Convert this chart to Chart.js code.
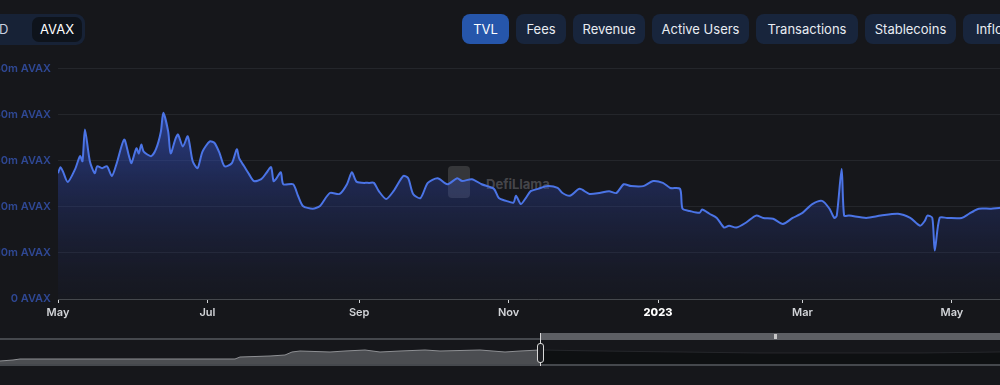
<!DOCTYPE html>
<html>
<head>
<meta charset="utf-8">
<script src="https://cdn.jsdelivr.net/npm/chart.js@4/dist/chart.umd.min.js"></script>
<style>
  body { margin: 0; width: 1000px; height: 385px; overflow: hidden; background: #16171b; font-family: Inter, "Noto Sans", sans-serif; position: relative; }
  .grp { position: absolute; left: -30px; top: 14px; width: 115px; height: 31px; background: #172236; border-radius: 9px; }
  .grp span { position: absolute; top: 0; line-height: 31px; font-size: 13px; color: #c9d1e0; }
  .grp .on { left: 62px; top: 3px; width: 50px; height: 25px; line-height: 25px; text-align: center; background: #0e131b; border-radius: 7px; color: #ffffff; }
  .btn { position: absolute; top: 14px; height: 30px; line-height: 30px; border-radius: 8px; background: #18253c; color: #e8ecf2; font-size: 13px; text-align: center; }
  .btn.on { background: #2656ab; color: #ffffff; }
  #wrap { position: absolute; left: -40px; top: 55px; width: 1061px; height: 266px; }
  #mark { position: absolute; left: 448px; top: 166px; }
  #mark .logo { position: absolute; left: 0; top: 0; width: 22px; height: 32px; background: rgba(150,150,150,0.25); border-radius: 4px; }
  #mark .txt { position: absolute; left: 38px; top: 10px; font-size: 13px; font-weight: 700; color: rgba(190,190,195,0.3); white-space: nowrap; }
  .bline { position: absolute; height: 2px; background: #45484d; }
  #brushWrap { position: absolute; left: 0; top: 340px; width: 1000px; height: 24px; }
  .handle { position: absolute; left: 537px; top: 343px; width: 5px; height: 18px; border: 1px solid #d8d8d8; border-radius: 3px; background: #1d1e22; }
</style>
</head>
<body>
<div class="grp"><span style="left:11px">USD</span><span class="on">AVAX</span></div>
<div class="btn on" style="left:462px;width:47px">TVL</div>
<div class="btn" style="left:516px;width:50px">Fees</div>
<div class="btn" style="left:573px;width:72px">Revenue</div>
<div class="btn" style="left:652px;width:97px">Active Users</div>
<div class="btn" style="left:756px;width:102px">Transactions</div>
<div class="btn" style="left:865px;width:91px">Stablecoins</div>
<div class="btn" style="left:963px;width:70px">Inflows</div>

<div id="mark"><div class="logo"></div><div class="txt">DefiLlama</div></div>
<div id="wrap"><canvas id="tvl"></canvas></div>

<div class="bline" style="left:0;top:338px;width:540px"></div>
<div style="position:absolute;left:540px;top:333px;width:460px;height:7px;background:#5d5f64"></div>
<div style="position:absolute;left:774px;top:334px;width:3px;height:5px;background:#c8c8c8"></div>
<div class="bline" style="left:0;top:364px;width:1000px"></div>
<div id="brushWrap"><canvas id="brush"></canvas></div>
<div style="position:absolute;left:540px;top:333px;width:1px;height:33px;background:#d8d8d8"></div>
<div class="handle"></div>

<script>
// days since 2022-05-01, TVL in millions of AVAX
const days = [0, 1, 2, 4, 7, 9, 10, 11, 13, 15, 16, 18, 20, 22, 24, 27, 29, 30, 32, 33, 34, 35, 38, 40, 42, 43, 45, 46, 48, 49,
  51, 53, 55, 57, 59, 62, 64, 66, 68, 71, 73, 74, 76, 78, 80, 83, 85, 87, 88, 89, 91, 92, 96, 98, 100, 104, 107, 111, 115, 118,
  120, 122, 127, 129, 131, 134, 137, 141, 143, 145, 148, 151, 155, 159, 163, 165, 169, 173, 178, 180, 183, 186, 187, 189, 191, 193, 196, 200,
  204, 206, 209, 213, 217, 221, 225, 228, 231, 234, 239, 243, 247, 250, 254, 255, 258, 262, 263, 266, 269, 272, 274, 277, 281, 285,
  288, 292, 296, 300, 304, 308, 312, 315, 317, 318, 320, 321, 323, 330, 336, 343, 348, 352, 354, 355, 357, 358, 360, 363, 369, 372,
  374, 376, 381, 385, 390];
const tvl = [27.3, 28.6, 27.7, 25.4, 28.2, 31.0, 29.9, 36.8, 29.9, 27.3, 28.8, 28.4, 28.8, 26.7, 29.5, 34.6, 31.0, 29.5, 32.7, 31.6, 33.5, 32.0, 31.0, 32.5, 36.3, 40.4, 36.3, 31.6, 34.8, 35.7,
  33.1, 35.3, 29.9, 28.4, 32.0, 34.2, 33.8, 31.6, 28.8, 29.5, 32.5, 30.5, 28.8, 27.1, 25.6, 26.0, 27.3, 28.6, 25.6, 26.0, 27.5, 24.9, 24.9, 22.4, 20.2, 19.6, 20.2, 23.0, 22.8, 24.9,
  27.5, 25.4, 25.2, 25.2, 23.4, 21.7, 23.4, 26.7, 26.2, 22.8, 21.9, 25.2, 26.2, 24.9, 26.2, 25.6, 26.0, 24.9, 23.9, 21.9, 21.3, 20.9, 22.4, 20.6, 21.9, 23.4, 23.9, 24.5,
  24.1, 23.0, 22.4, 23.9, 22.8, 23.0, 23.4, 23.0, 24.9, 24.5, 24.5, 25.6, 25.2, 24.1, 23.9, 19.6, 19.1, 18.7, 19.4, 18.5, 17.6, 15.5, 15.9, 15.5, 16.6, 18.1,
  17.6, 17.4, 16.3, 17.6, 18.7, 20.6, 21.3, 19.6, 17.6, 18.1, 28.2, 18.1, 18.1, 17.6, 18.1, 18.5, 17.6, 15.9, 17.0, 18.1, 17.6, 10.5, 17.6, 17.6, 17.6, 18.5,
  19.1, 19.6, 19.6, 19.8, 19.8];

const tickDays = [0, 61, 123, 184, 245, 304, 365];
const tickLabels = ['May', 'Jul', 'Sep', 'Nov', '2023', 'Mar', 'May'];
const yTickLabels = ['0 AVAX', '10m AVAX', '20m AVAX', '30m AVAX', '40m AVAX', '50m AVAX'];

// overview slider (whole history), position along slider and relative level
const ovPos = [0, 13, 20, 235, 240, 270, 285, 292, 300, 330, 345, 365, 380, 400, 425, 440, 480, 505, 520, 540];
const ovVal = [3, 4, 5, 5, 7, 8, 9, 12, 13, 12, 13, 14, 12, 13, 14, 13, 14, 12, 13, 14];
const ovPosSel = [540, 600, 680, 760, 840, 920, 1000];
const ovValSel = [14, 13, 12, 11, 11, 11, 12];

function fillGrad(ctx) {
  const area = ctx.chart.chartArea;
  if (!area) return 'rgba(50,80,180,0.4)';
  const g = ctx.chart.ctx.createLinearGradient(0, area.top, 0, area.bottom);
  g.addColorStop(0, 'rgba(62,98,225,0.8)');
  g.addColorStop(0.5, 'rgba(45,68,165,0.38)');
  g.addColorStop(1, 'rgba(30,40,90,0.08)');
  return g;
}

new Chart(document.getElementById('tvl'), {
  type: 'line',
  data: {
    datasets: [{
      data: days.map((d, i) => ({ x: d, y: tvl[i] })),
      borderColor: '#4b74e6',
      borderWidth: 2,
      backgroundColor: fillGrad,
      fill: 'origin',
      pointRadius: 0,
      tension: 0.25
    }]
  },
  options: {
    responsive: true,
    maintainAspectRatio: false,
    animation: false,
    layout: { padding: { top: 12, right: 3, bottom: 0, left: 0 } },
    plugins: { legend: { display: false }, tooltip: { enabled: false } },
    scales: {
      x: {
        type: 'linear',
        min: 0,
        max: 392,
        afterBuildTicks: (axis) => { axis.ticks = tickDays.map(v => ({ value: v })); },
        afterFit: (axis) => { axis.height = 22; },
        ticks: {
          autoSkip: false,
          maxRotation: 0,
          padding: 3,
          color: (c) => c.tick && c.tick.label === '2023' ? '#ffffff' : '#d2d4d8',
          font: (c) => ({ family: 'Inter', size: 11, weight: c.tick && c.tick.label === '2023' ? '800' : '600' }),
          callback: (v) => tickLabels[tickDays.indexOf(v)]
        },
        grid: { drawOnChartArea: false, drawTicks: true, tickLength: 4, tickColor: '#cfd1d4' },
        border: { display: true, color: '#45484d', width: 1 }
      },
      y: {
        min: 0,
        max: 50,
        afterFit: (axis) => { axis.width = 98; },
        ticks: {
          stepSize: 10,
          padding: 7,
          color: '#2f4894',
          font: { family: 'Inter', size: 11, weight: '600' },
          callback: (v) => yTickLabels[v / 10]
        },
        grid: { color: '#24262b', drawTicks: false },
        border: { display: false }
      }
    }
  }
});

new Chart(document.getElementById('brush'), {
  type: 'line',
  data: {
    datasets: [{
      data: ovPos.map((p, i) => ({ x: p, y: ovVal[i] })),
      borderColor: '#8e9094',
      borderWidth: 1,
      backgroundColor: 'rgba(120,122,126,0.55)',
      fill: 'origin',
      pointRadius: 0
    }, {
      data: ovPosSel.map((p, i) => ({ x: p, y: ovValSel[i] })),
      borderColor: 'rgba(50,52,56,0.6)',
      borderWidth: 1,
      backgroundColor: 'rgba(10,11,13,0.6)',
      fill: 'origin',
      pointRadius: 0
    }]
  },
  options: {
    responsive: true,
    maintainAspectRatio: false,
    animation: false,
    plugins: { legend: { display: false }, tooltip: { enabled: false } },
    scales: {
      x: { type: 'linear', min: 0, max: 1000, display: false },
      y: { min: 0, max: 24, display: false }
    }
  }
});
</script>
</body>
</html>
